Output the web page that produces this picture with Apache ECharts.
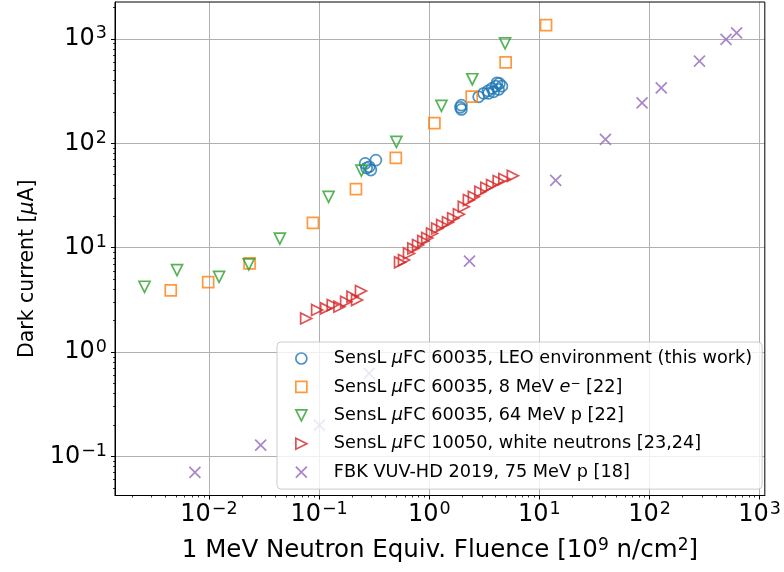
<!DOCTYPE html>
<html><head><meta charset="utf-8">
<script src="https://cdn.jsdelivr.net/npm/echarts@6/dist/echarts.min.js"></script>
<style>html,body{margin:0;padding:0;background:#fff}#c{width:784px;height:572px}</style>
</head><body><div id="c"></div>
<script>
// ---- axis ticks ----
const xMajorTicks = [0.01, 0.1, 1, 10, 100, 1000];
const yMajorTicks = [0.1, 1, 10, 100, 1000];
const xMinorTicks = [0.002,0.003,0.004,0.005,0.006,0.007,0.008,0.009,
  0.02,0.03,0.04,0.05,0.06,0.07,0.08,0.09, 0.2,0.3,0.4,0.5,0.6,0.7,0.8,0.9,
  2,3,4,5,6,7,8,9, 20,30,40,50,60,70,80,90, 200,300,400,500,600,700,800,900];
const yMinorTicks = [0.05,0.06,0.07,0.08,0.09, 0.2,0.3,0.4,0.5,0.6,0.7,0.8,0.9,
  2,3,4,5,6,7,8,9, 20,30,40,50,60,70,80,90, 200,300,400,500,600,700,800,900, 2000];

// ---- series names ----
const names = [
  'SensL μFC 60035, LEO environment (this work)',
  'SensL μFC 60035, 8 MeV e⁻ [22]',
  'SensL μFC 60035, 64 MeV p [22]',
  'SensL μFC 10050, white neutrons [23,24]',
  'FBK VUV-HD 2019, 75 MeV p [18]'
];

// ---- data ----
const leoX = [0.262, 0.285, 0.328, 0.295, 0.27, 1.96, 1.92, 1.96, 2.81, 3.12, 3.41, 3.71, 4.03, 4.33, 3.46, 3.84, 4.26, 4.57, 4.12];
const leoY = [64.2, 59.6, 69, 55.4, 58, 232, 221, 211, 279, 301, 318, 336, 353, 375, 301, 311, 328, 353, 380];
const eX = [0.0045, 0.00984, 0.0234, 0.0879, 0.216, 0.497, 1.114, 2.43, 4.94, 11.5];
const eY = [3.90, 4.68, 7.08, 17.3, 36.4, 72.6, 156, 280, 596, 1355];
const pX = [0.0026, 0.00513, 0.01236, 0.0230, 0.0440, 0.122, 0.242, 0.503, 1.29, 2.46, 4.88];
const pY = [4.22, 6.10, 5.26, 6.92, 12.2, 30.7, 54.7, 103, 228, 411, 905];
const nX = [0.0763, 0.0960, 0.116, 0.133, 0.153, 0.176, 0.201, 0.221, 0.240, 0.543, 0.590, 0.655, 0.717, 0.791, 0.883, 0.959, 1.06, 1.18, 1.31, 1.48, 1.65, 1.86, 2.06, 2.29, 2.54, 2.91, 3.30, 3.72, 4.27, 4.81, 5.74];
const nY = [2.10, 2.53, 2.62, 2.82, 2.72, 3.03, 3.39, 3.15, 3.84, 7.23, 7.61, 8.81, 9.84, 10.6, 11.6, 12.4, 13.7, 15.3, 16.5, 17.5, 19.1, 20.9, 24.7, 28.6, 30.7, 34.3, 37.5, 39.8, 43.5, 45.4, 48.8];
const fX = [0.00746, 0.0295, 0.1006, 0.285, 2.32, 14.07, 39.8, 85.6, 127.9, 284, 495, 618];
const fY = [0.0704, 0.128, 0.199, 0.625, 7.44, 44.1, 109, 244, 340, 613, 989, 1143];

const colors = ['#1f77b4', '#ff7f0e', '#2ca02c', '#d62728', '#9467bd'];
const symbols = ['circle', 'rect', 'path://M0,0L2,0L1,2Z', 'path://M0,0L2,1L0,2Z', 'path://M0,0L2,2M2,0L0,2'];
const xs = [leoX, eX, pX, nX, fX];
const ys = [leoY, eY, pY, nY, fY];

const FONT = 'DejaVu Sans';
const TICK = 24, XNAME = 24.5, YNAME = 20.5, LEG = 17.7;

function pow10Label(v) {
  const e = Math.round(Math.log10(v));
  if (Math.abs(Math.log10(v) - e) > 1e-6) return '';
  return '{b|10}{s|' + (e < 0 ? '\u2212' + (-e) : e) + '}';
}
const tickRich = {
  b: {fontSize: TICK, fontFamily: FONT, color: '#000'},
  s: {fontSize: 17.5, fontFamily: FONT, color: '#000', verticalAlign: 'bottom', padding: [0, 0, 10, 1]}
};

const series = names.map((n, i) => ({
  name: n,
  type: 'scatter',
  symbol: symbols[i],
  symbolSize: 11,
  itemStyle: {color: 'rgba(0,0,0,0)', borderColor: colors[i], borderWidth: 1.7},
  emphasis: {disabled: true},
  data: xs[i].map((x, k) => [x, ys[i][k]]),
  xAxisIndex: 0, yAxisIndex: 0, z: 3
}));

const xMin = 0.001403, xMax = 1114, yMin = 0.0422, yMax = 2259;

function legendFmt(name) {
  let t = name.replace('μ', '{i|μ}').replace('e⁻', '{i|e}{s|\u2212}');
  return '{sp|}' + t;
}

const option = {
  animation: false,
  backgroundColor: '#fff',
  grid: {left: 115, right: 16.5, top: 2, bottom: 76.5, show: true, borderColor: '#000', borderWidth: 1, backgroundColor: 'rgba(0,0,0,0)', z: 4},
  xAxis: [{
    type: 'log', min: xMin, max: xMax, position: 'bottom',
    axisLine: {show: true, lineStyle: {color: '#000', width: 1}},
    axisTick: {show: true, inside: false, length: 4, lineStyle: {color: '#000', width: 1}, customValues: xMajorTicks},
    axisLabel: {customValues: xMajorTicks, formatter: pow10Label, rich: tickRich, margin: 5},
    splitLine: {show: true, lineStyle: {color: '#b0b0b0', width: 1}},
    minorTick: {show: false},
    name: '1 MeV Neutron Equiv. Fluence [10{s|9} n/cm{s|2}]',
    nameLocation: 'middle', nameGap: 42,
    nameTextStyle: {fontSize: XNAME, fontFamily: FONT, color: '#000',
      rich: {s: {fontSize: 17, fontFamily: FONT, color: '#000', verticalAlign: 'bottom', padding: [0, 0, 10, 0]}}}
  }, {
    type: 'log', min: xMin, max: xMax, position: 'bottom', offset: 0,
    axisLine: {show: false},
    axisTick: {show: true, inside: false, length: 2, lineStyle: {color: '#000', width: 0.8}, customValues: xMinorTicks},
    axisLabel: {show: false}, splitLine: {show: false}
  }],
  yAxis: [{
    type: 'log', min: yMin, max: yMax, position: 'left',
    axisLine: {show: true, lineStyle: {color: '#000', width: 1}},
    axisTick: {show: true, inside: false, length: 4, lineStyle: {color: '#000', width: 1}, customValues: yMajorTicks},
    axisLabel: {customValues: yMajorTicks, formatter: pow10Label, rich: tickRich, margin: 8},
    splitLine: {show: true, lineStyle: {color: '#b0b0b0', width: 1}},
    name: 'Dark current [{i|μ}A]',
    nameLocation: 'middle', nameGap: 77,
    nameTextStyle: {fontSize: YNAME, fontFamily: FONT, color: '#000', padding: [0, 40, 0, 0],
      rich: {i: {fontSize: YNAME, fontFamily: FONT, fontStyle: 'italic', color: '#000'}}}
  }, {
    type: 'log', min: yMin, max: yMax, position: 'left', offset: 0,
    axisLine: {show: false},
    axisTick: {show: true, inside: false, length: 2, lineStyle: {color: '#000', width: 0.8}, customValues: yMinorTicks},
    axisLabel: {show: false}, splitLine: {show: false}
  }],
  legend: {
    orient: 'vertical', left: 277, top: 342,
    padding: [6.5, 10, 7, 18],
    itemWidth: 11, itemHeight: 11, itemGap: 8.4,
    backgroundColor: 'rgba(255,255,255,0.8)', borderColor: '#cccccc', borderWidth: 1, borderRadius: 4,
    itemStyle: {borderWidth: 1.7},
    data: names,
    formatter: legendFmt,
    textStyle: {fontSize: LEG, fontFamily: FONT, color: '#000', lineHeight: 20,
      rich: {
        sp: {width: 22},
        i: {fontSize: LEG, fontFamily: FONT, fontStyle: 'italic', color: '#000'},
        s: {fontSize: 12, fontFamily: FONT, color: '#000', verticalAlign: 'bottom', padding: [0, 0, 7, 0]}
      }},
    selectedMode: false
  },
  series: series
};

const chart = echarts.init(document.getElementById('c'), null, {renderer: 'canvas'});
chart.setOption(option);
</script>
</body></html>
